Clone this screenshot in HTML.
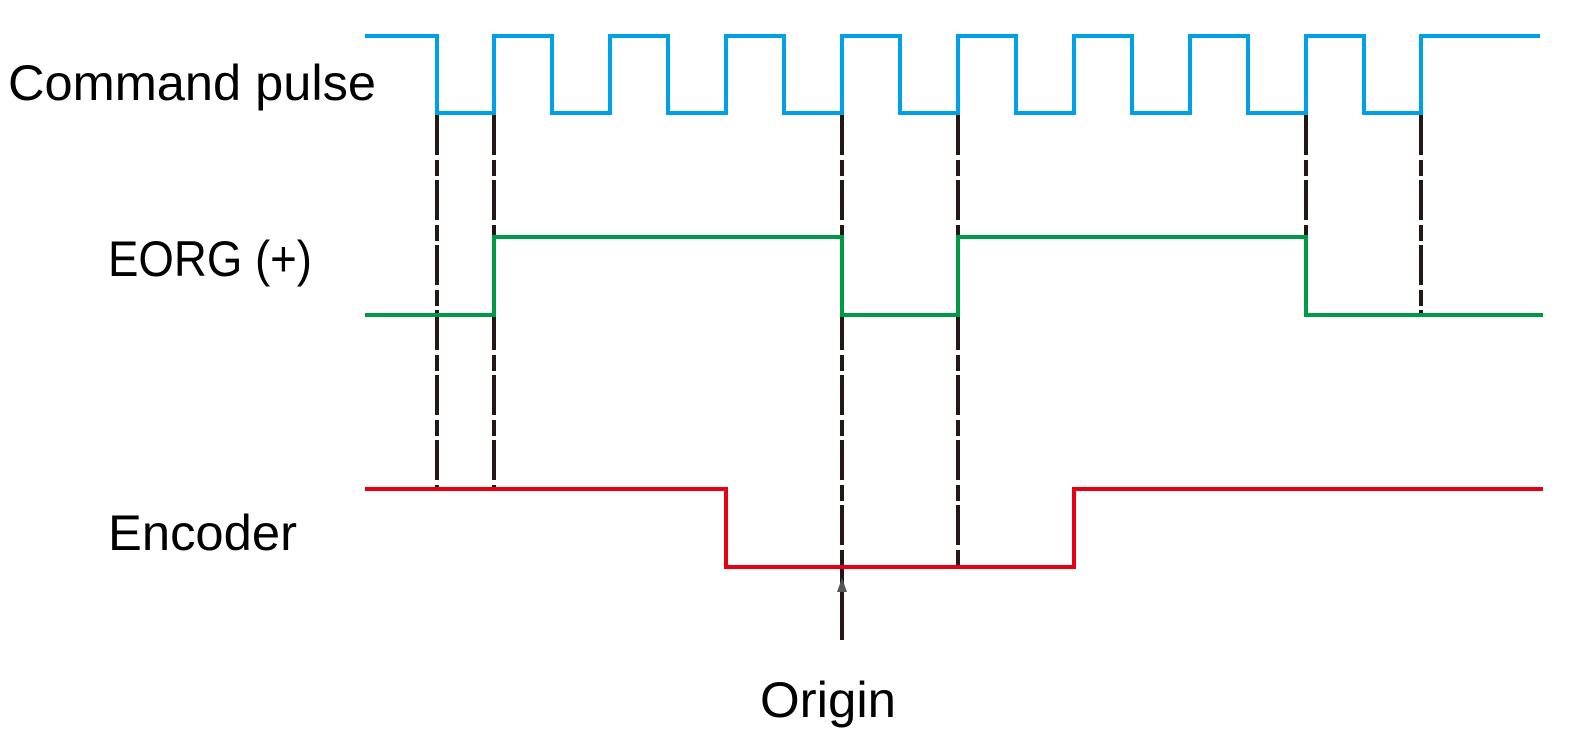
<!DOCTYPE html>
<html><head><meta charset="utf-8"><style>
html,body{margin:0;padding:0;background:#fff;}
svg{display:block}
text{font-family:"Liberation Sans",sans-serif;font-size:50px;fill:#000}
</style></head><body>
<svg width="1570" height="751" viewBox="0 0 1570 751">
<g stroke="#231815" stroke-width="4" stroke-dasharray="40 5 16 4" fill="none">
<line x1="437" y1="115" x2="437" y2="489"/>
<line x1="494" y1="115" x2="494" y2="489"/>
<line x1="842" y1="115" x2="842" y2="567"/>
<line x1="958" y1="115" x2="958" y2="567"/>
<line x1="1306" y1="115" x2="1306" y2="315"/>
<line x1="1421" y1="115" x2="1421" y2="315"/>
</g>
<line x1="842" y1="567" x2="842" y2="640" stroke="#231815" stroke-width="4"/>
<path d="M837 592 L842 578 L847 592 Z" fill="#555"/>
<polyline fill="none" stroke="#00a0e9" stroke-width="4" points="365,36 437,36 437,113 494,113 494,36 552,36 552,113 610,113 610,36 668,36 668,113 726,113 726,36 784,36 784,113 842,113 842,36 900,36 900,113 958,113 958,36 1016,36 1016,113 1074,113 1074,36 1132,36 1132,113 1190,113 1190,36 1248,36 1248,113 1306,113 1306,36 1364,36 1364,113 1421,113 1421,36 1540,36"/>
<polyline fill="none" stroke="#009944" stroke-width="4" points="365,315 494,315 494,237 842,237 842,315 958,315 958,237 1306,237 1306,315 1543,315"/>
<polyline fill="none" stroke="#e60012" stroke-width="4" points="365,489 726,489 726,567 1074,567 1074,489 1543,489"/>
<text x="8" y="100" textLength="368" lengthAdjust="spacingAndGlyphs">Command pulse</text>
<text x="108" y="276" textLength="204" lengthAdjust="spacingAndGlyphs">EORG (+)</text>
<text x="108" y="550" textLength="189" lengthAdjust="spacingAndGlyphs">Encoder</text>
<text x="760" y="717" textLength="136" lengthAdjust="spacingAndGlyphs">Origin</text>
</svg>
</body></html>
